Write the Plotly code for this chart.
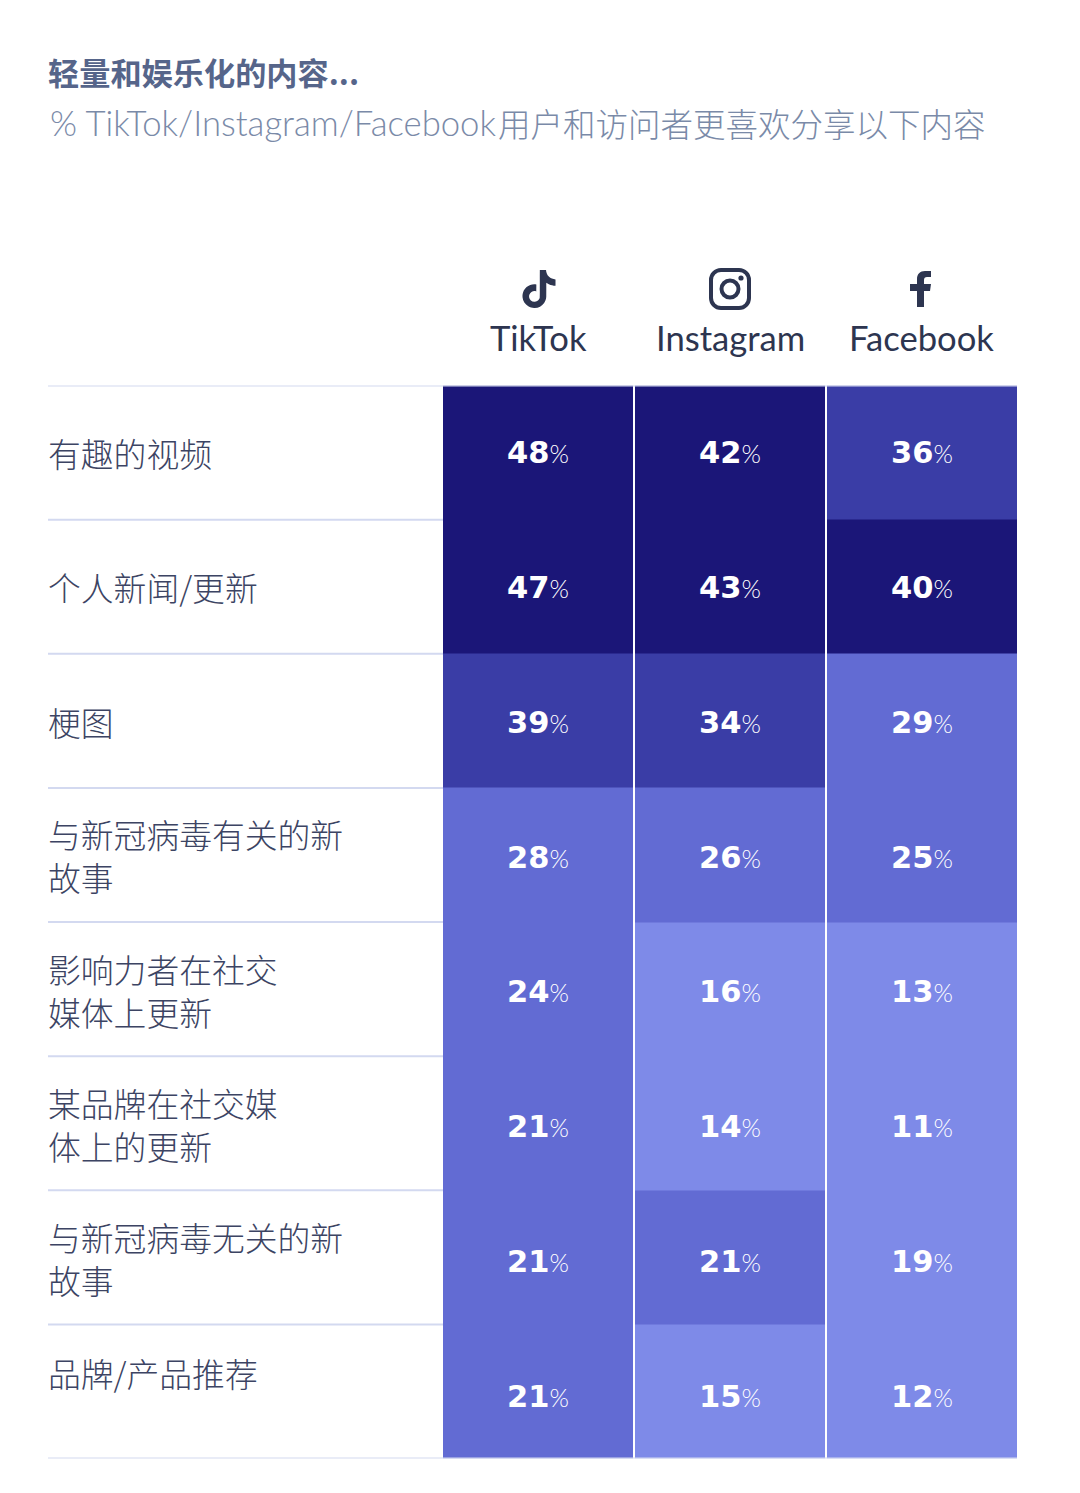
import base64
import plotly.graph_objects as go

W, H = 1080, 1493

platforms = ["TikTok", "Instagram", "Facebook"]
labels = [
    "有趣的视频",
    "个人新闻/更新",
    "梗图",
    "与新冠病毒有关的新<br>故事",
    "影响力者在社交<br>媒体上更新",
    "某品牌在社交媒<br>体上的更新",
    "与新冠病毒无关的新<br>故事",
    "品牌/产品推荐",
]
tiktok = [48, 47, 39, 28, 24, 21, 21, 21]
instagram = [42, 43, 34, 26, 16, 14, 21, 15]
facebook = [36, 40, 29, 25, 13, 11, 19, 12]
label_shift = [0, 0, -1, -0.5, -1, -1, -0.5, 19]

CJK = "Noto Sans CJK SC"
LATIN = "Lato, Noto Sans CJK SC"
rows = list(range(len(labels)))
z = [list(v) for v in zip(tiktok, instagram, facebook)]


def px(x):
    return (x - 8) / W


def py(y):
    return 1 - (y - 8) / H


colors = ["#7e8ae8", "#626bd3", "#3a3da6", "#1b1678"]
scale = [
    [0, colors[0]], [0.4, colors[0]],
    [0.4, colors[1]], [0.6, colors[1]],
    [0.6, colors[2]], [0.8, colors[2]],
    [0.8, colors[3]], [1, colors[3]],
]

fig = go.Figure(go.Heatmap(
    x=platforms, y=rows, z=z, zmin=0, zmax=50,
    colorscale=scale, showscale=False, xgap=2, hoverinfo="skip",
))

ann = []
for r in rows:
    # cell values sit a little lower in the cell further down the table
    for c, name in enumerate(platforms):
        ann.append(dict(
            x=name, y=r, xref="x", yref="y", showarrow=False, yanchor="middle", yshift=-0.7 * r,
            text=f"<b>{z[r][c]}</b><span style='font-family:Lato;font-weight:300;font-size:25px'>%</span>",
            font=dict(family="DejaVu Sans", size=30.5, color="white"),
        ))
    ann.append(dict(
        x=px(46), y=r, xref="paper", yref="y", xanchor="left", yanchor="middle", align="left",
        showarrow=False, text=labels[r], yshift=label_shift[r],
        font=dict(family=CJK, size=32.8, color="#3c4463", weight=300),
    ))

# headers
for name, cx in zip(platforms, [538, 730, 921]):
    ann.append(dict(
        x=px(cx), y=py(337), xref="paper", yref="paper", xanchor="center", yanchor="middle",
        showarrow=False, text=name, font=dict(family=LATIN, size=34.6, color="#2d3550"),
    ))

# title block
ann.append(dict(
    x=px(46), y=py(72), xref="paper", yref="paper", xanchor="left", yanchor="middle",
    showarrow=False, text="<b>轻量和娱乐化的内容...</b>",
    font=dict(family=CJK, size=31.2, color="#56658a"),
))
ann.append(dict(
    x=px(48), y=py(122), xref="paper", yref="paper", xanchor="left", yanchor="middle",
    showarrow=False, text="% TikTok/Instagram/Facebook",
    font=dict(family="Lato", size=34.7, color="#7a8aa8", weight=300),
))
ann.append(dict(
    x=px(988), y=py(122), xref="paper", yref="paper", xanchor="right", yanchor="middle",
    showarrow=False, text="用户和访问者更喜欢分享以下内容",
    font=dict(family=CJK, size=32.5, color="#7a8aa8", weight=300),
))

# separators
line = dict(color="#d3d9f0", width=2)
shapes = []
for b in [r + 0.5 for r in rows[:-1]]:
    shapes.append(dict(type="line", xref="paper", yref="y", x0=px(48), x1=px(443), y0=b, y1=b, line=line, layer="above"))
for b in [-0.5, rows[-1] + 0.5]:
    shapes.append(dict(type="line", xref="paper", yref="y", x0=px(48), x1=px(1017), y0=b, y1=b, line=line, layer="above"))

# platform icons
DARK = "#2d3550"
icons = {
    "tiktok": (f"<svg xmlns='http://www.w3.org/2000/svg' viewBox='0 0 24 24'><path fill='{DARK}' d='M12.525.02c1.31-.02 2.61-.01 3.91-.02.08 1.53.63 3.09 1.75 4.17 1.12 1.11 2.7 1.62 4.24 1.79v4.03c-1.44-.05-2.89-.35-4.2-.97-.57-.26-1.1-.59-1.62-.93-.01 2.92.01 5.84-.02 8.75-.08 1.4-.54 2.79-1.35 3.94-1.31 1.92-3.58 3.17-5.91 3.21-1.43.08-2.86-.31-4.08-1.03-2.02-1.19-3.44-3.37-3.65-5.71-.02-.5-.03-1-.01-1.49.18-1.9 1.12-3.72 2.58-4.96 1.66-1.44 3.98-2.13 6.15-1.72.02 1.48-.04 2.96-.04 4.44-.99-.32-2.15-.23-3.02.37-.63.41-1.11 1.04-1.36 1.75-.21.51-.15 1.07-.14 1.61.24 1.64 1.82 3.02 3.5 2.87 1.12-.01 2.19-.66 2.77-1.61.19-.33.4-.67.41-1.06.1-1.79.06-3.57.07-5.36.01-4.03-.01-8.05.02-12.07z'/></svg>", 520, 270, 38),
    "instagram": (f"<svg xmlns='http://www.w3.org/2000/svg' viewBox='0 0 42 42'><rect x='2' y='2' width='38' height='38' rx='10' fill='none' stroke='{DARK}' stroke-width='4'/><circle cx='21' cy='21' r='8.5' fill='none' stroke='{DARK}' stroke-width='4'/><circle cx='32' cy='10' r='2.6' fill='{DARK}'/></svg>", 709, 268, 42),
    "facebook": (f"<svg xmlns='http://www.w3.org/2000/svg' viewBox='0 0 38 38'><path fill='{DARK}' d='M13 37V21H6v-7h7V9c0-5 3-8 8-8h6v6h-4c-2 0-3 1-3 3v4h7l-1 7h-6v16z'/></svg>", 904, 270, 38),
}
images = []
for svg, x0, y0, size in icons.values():
    src = "data:image/svg+xml;base64," + base64.b64encode(svg.encode()).decode()
    images.append(dict(
        source=src, xref="paper", yref="paper", x=px(x0), y=py(y0),
        sizex=size / W, sizey=size / H, xanchor="left", yanchor="top", layer="above",
    ))

fig.update_layout(
    width=W, height=H, autosize=False,
    margin=dict(l=0, r=0, t=0, b=0),
    paper_bgcolor="white", plot_bgcolor="white",
    annotations=ann, shapes=shapes, images=images,
    xaxis=dict(domain=[px(442), px(1018)], visible=False, fixedrange=True),
    yaxis=dict(domain=[py(1458.5), py(385.5)], visible=False, autorange=False,
               range=[rows[-1] + 0.5, -0.5], fixedrange=True),
)

fig.write_html("out.html", config=dict(displayModeBar=False))
